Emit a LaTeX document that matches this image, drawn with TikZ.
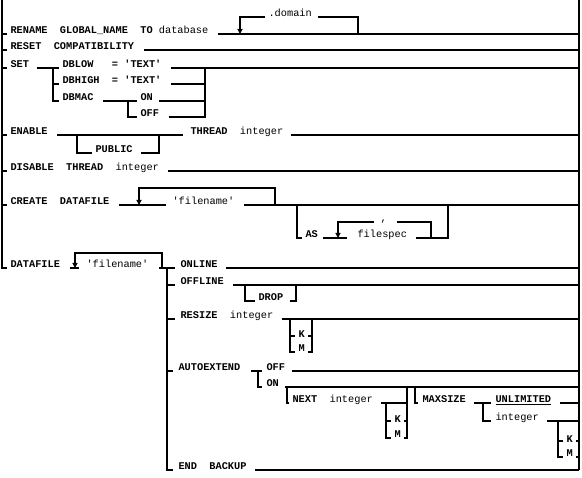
\documentclass[tikz,border=0pt]{standalone}
\usepackage{fontspec}
\usepackage{tikz}
\usetikzlibrary{positioning, arrows.meta}
\newfontfamily\railfont{Liberation Mono}
\newcommand{\plc}[1]{{\mdseries #1}}

\begin{document}
\begin{tikzpicture}[x=1pt, y=-1pt, line width=1.1pt,
     kw/.style={inner sep=0pt, anchor=base west, font=\fontsize{10.3}{12}\railfont\bfseries},
     loopin/.style={-{Triangle[width=5pt,length=5pt]}}]
  \useasboundingbox (0,0) rectangle (582,478);

  \node[kw] (rename) at (10,34) {RENAME~~GLOBAL\_NAME~~TO~\plc{database}};
  \node[kw] (domain) at (268,17) {\plc{.domain}};
  \node[kw] (reset) at (10,50) {RESET~~COMPATIBILITY};
  \node[kw] (set) at (10,68) {SET};
  \node[kw] (dblow) at (62,68) {DBLOW~~~=~'TEXT'};
  \node[kw] (dbhigh) at (62,84) {DBHIGH~~=~'TEXT'};
  \node[kw] (dbmac) at (62,101) {DBMAC};
  \node[kw] (on) at (140,101) {ON};
  \node[kw] (off) at (140,117) {OFF};
  \node[kw] (enable) at (10,135) {ENABLE};
  \node[kw] (public) at (95,153) {PUBLIC};
  \node[kw] (thread) at (190,135) {THREAD~~\plc{integer}};
  \node[kw] (disable) at (10,171) {DISABLE~~THREAD~~\plc{integer}};
  \node[kw] (create) at (10,205) {CREATE~~DATAFILE};
  \node[kw] (fname) at (172,205) {\plc{'filename'}};
  \node[kw] (as) at (305,238) {AS};
  \node[kw] (filespec) at (357,238) {\plc{filespec}};
  \node[kw] (comma) at (380,222) {\plc{,}};
  \node[kw] (datafile) at (10,268) {DATAFILE};
  \node[kw] (dfname) at (86,268) {\plc{'filename'}};
  \node[kw] (online) at (180,268) {ONLINE};
  \node[kw] (offline) at (180,285) {OFFLINE};
  \node[kw] (drop) at (258,301) {DROP};
  \node[kw] (resize) at (180,319) {RESIZE~~\plc{integer}};
  \node[kw] (rk) at (298,338) {K};
  \node[kw] (rm) at (298,352) {M};
  \node[kw] (autoext) at (178,371) {AUTOEXTEND};
  \node[kw] (aoff) at (266,371) {OFF};
  \node[kw] (aon) at (266,387) {ON};
  \node[kw] (next) at (292,403) {NEXT~~\plc{integer}};
  \node[kw] (nk) at (394,423) {K};
  \node[kw] (nm) at (394,438) {M};
  \node[kw] (maxsize) at (422,403) {MAXSIZE};
  \node[kw] (unlim) at (495,403) {\underline{UNLIMITED}};
  \node[kw] (mint) at (495,421) {\plc{integer}};
  \node[kw] (mk) at (566,443) {K};
  \node[kw] (mm) at (566,457) {M};
  \node[kw] (endb) at (178,470) {END~~BACKUP};

  \draw (2,0) -- (2,268) -- ([xshift=-3pt]datafile.base west);
  \draw (579,0) -- (579,470);

  \draw (2,34) -- ([xshift=-3pt]rename.base west);
  \draw ([xshift=9pt]rename.base east) -- (579,34);
  \draw (358,34) |- ([xshift=6pt]domain.base east);
  \draw[loopin] ([xshift=-3pt]domain.base west) -| (240,34);

  \draw (2,50) -- ([xshift=-3pt]reset.base west);
  \draw ([xshift=9pt]reset.base east) -- (579,50);

  \draw (2,68) -- ([xshift=-3pt]set.base west);
  \draw ([xshift=7pt]set.base east) -- ([xshift=-3pt]dblow.base west);
  \draw (53,68) |- ([xshift=-3pt]dbmac.base west);
  \draw (53,84) -- ([xshift=-3pt]dbhigh.base west);
  \draw ([xshift=9pt]dblow.base east) -- (579,68);
  \draw ([xshift=9pt]dbhigh.base east) -- (205,84);
  \draw ([xshift=9pt]dbmac.base east) -- ([xshift=-3pt]on.base west);
  \draw (128,101) |- ([xshift=-3pt]off.base west);
  \draw ([xshift=6pt]on.base east) -- (205,101);
  \draw ([xshift=9pt]off.base east) -| (205,68);

  \draw (2,135) -- ([xshift=-3pt]enable.base west);
  \draw ([xshift=9pt]enable.base east) -- ([xshift=-7pt]thread.base west);
  \draw (77,135) |- ([xshift=-3pt]public.base west);
  \draw ([xshift=8pt]public.base east) -| (159,135);
  \draw ([xshift=7pt]thread.base east) -- (579,135);

  \draw (2,171) -- ([xshift=-3pt]disable.base west);
  \draw ([xshift=9pt]disable.base east) -- (579,171);

  \draw (2,205) -- ([xshift=-3pt]create.base west);
  \draw ([xshift=9pt]create.base east) -- ([xshift=-6pt]fname.base west);
  \draw[loopin] (275,205) |- (139,188) -- (139,205);
  \draw ([xshift=9pt]fname.base east) -- (579,205);
  \draw (297,205) |- ([xshift=-3pt]as.base west);
  \draw ([xshift=5pt]as.base east) -- ([xshift=-10pt]filespec.base west);
  \draw (431,238) |- ([xshift=10pt]comma.base east);
  \draw[loopin] ([xshift=-6pt]comma.base west) -| (338,238);
  \draw ([xshift=8pt]filespec.base east) -| (448,205);

  \draw ([xshift=9pt]datafile.base east) -- ([xshift=-7pt]dfname.base west);
  \draw[loopin] (162,268) |- (75,253) -- (75,268);
  \draw ([xshift=10pt]dfname.base east) -- ([xshift=-5pt]online.base west);
  \draw (167,268) |- ([xshift=-5pt]endb.base west);
  \draw (167,285) -- ([xshift=-5pt]offline.base west);
  \draw (167,319) -- ([xshift=-5pt]resize.base west);
  \draw (167,371) -- ([xshift=-5pt]autoext.base west);
  \draw ([xshift=8pt]online.base east) -- (579,268);
  \draw ([xshift=9pt]offline.base east) -- (579,285);
  \draw (245,285) |- ([xshift=-3pt]drop.base west);
  \draw ([xshift=6pt]drop.base east) -| (296,285);
  \draw ([xshift=8pt]resize.base east) -- (579,319);
  \draw (290,319) |- ([xshift=-3pt]rm.base west);
  \draw (312,319) |- ([xshift=3pt]rm.base east);
  \draw (290,336) -- ([xshift=-3pt,yshift=2pt]rk.base west);
  \draw ([xshift=3pt,yshift=2pt]rk.base east) -- (312,336);

  \draw ([xshift=10pt]autoext.base east) -- ([xshift=-4pt]aoff.base west);
  \draw (258,371) |- ([xshift=-4pt]aon.base west);
  \draw ([xshift=6pt]aoff.base east) -- (579,371);
  \draw ([xshift=6pt]aon.base east) -- (579,387);
  \draw (287,387) |- ([xshift=-3pt]next.base west);
  \draw ([xshift=8pt]next.base east) -- (407,403);
  \draw (386,403) |- ([xshift=-3pt]nm.base west);
  \draw (407,387) |- ([xshift=3pt]nm.base east);
  \draw (386,421) -- ([xshift=-3pt,yshift=2pt]nk.base west);
  \draw ([xshift=3pt,yshift=2pt]nk.base east) -- (407,421);

  \draw (415,387) |- ([xshift=-4pt]maxsize.base west);
  \draw ([xshift=8pt]maxsize.base east) -- ([xshift=-4pt]unlim.base west);
  \draw (483,403) |- ([xshift=-4pt]mint.base west);
  \draw ([xshift=8pt]unlim.base east) -- (579,403);
  \draw ([xshift=8pt]mint.base east) -- (579,421);
  \draw (558,421) |- ([xshift=-3pt]mm.base west);
  \draw ([xshift=3pt]mm.base east) -- (579,457);
  \draw (558,441) -- ([xshift=-3pt,yshift=2pt]mk.base west);
  \draw ([xshift=3pt,yshift=2pt]mk.base east) -- (579,441);

  \draw ([xshift=8pt]endb.base east) -- (579,470);
\end{tikzpicture}
\end{document}
